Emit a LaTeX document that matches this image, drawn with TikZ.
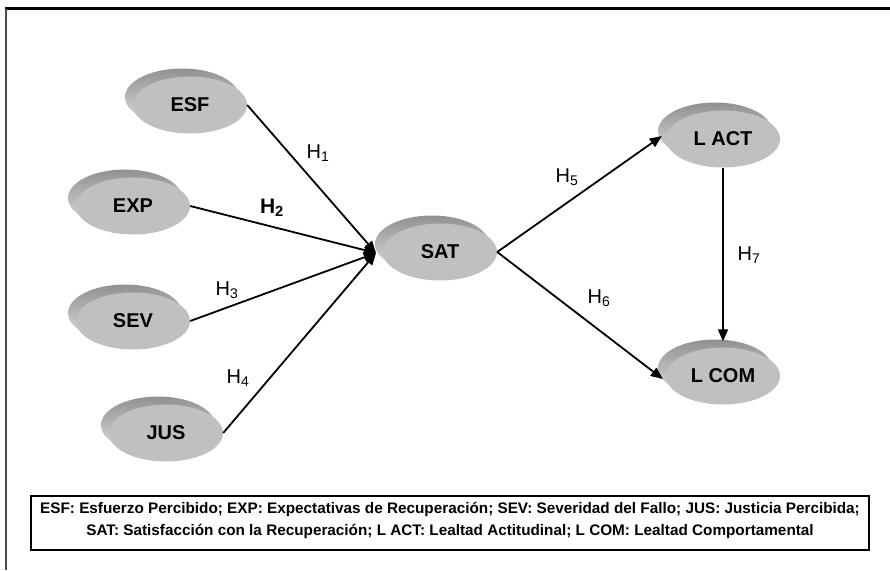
\documentclass[tikz,border=0pt]{standalone}
\usepackage{fontspec}
\setmainfont{Liberation Sans}
\usetikzlibrary{arrows.meta,shapes.geometric,shadows}

\definecolor{discgray}{RGB}{192,192,192}
\definecolor{rimtop}{RGB}{145,145,145}
\definecolor{rimbot}{RGB}{222,222,222}

\tikzset{
  construct/.style={ellipse, minimum width=114pt, minimum height=57pt, inner sep=0pt,
    fill=discgray, font=\fontsize{20}{20}\selectfont\bfseries,
    general shadow={shadow xshift=-8pt, shadow yshift=8pt, top color=rimtop, bottom color=rimbot}},
  hyp/.style={-{Triangle[length=12pt,width=10pt]}, line width=1.8pt},
  hlabel/.style={font=\fontsize{20}{20}\selectfont}
}

\begin{document}
\begin{tikzpicture}[x=1pt,y=-1pt]
 \useasboundingbox (0,0) rectangle (890,570);
 % frame
 \draw [line width=3pt](5,8.5)--(890,8.5);
 \draw [line width=1.5pt,black!70](6,8.5)--(6,570);

 % constructs
 \node[construct] (esf) at (190,105) {ESF};
 \node[construct] (exp) at (133,206) {EXP};
 \node[construct] (sev) at (133,321) {SEV};
 \node[construct] (jus) at (166,433) {JUS};
 \node[construct] (sat) at (440,252) {SAT};
 \node[construct] (lact) at (723,139) {L ACT};
 \node[construct] (lcom) at (723,376) {L COM};
 \coordinate (satin) at (376,253);

 % hypotheses
 \draw[hyp](esf.east)--(satin);
 \draw[hyp](exp.east)--(satin);
 \draw[hyp](sev.east)--(satin);
 \draw[hyp](jus.east)--(satin);
 \draw[hyp](sat.east)--([xshift=-4pt,yshift=3pt]lact.west);
 \draw[hyp](sat.east)--([xshift=-3pt,yshift=-3pt]lcom.west);
 \draw[hyp](lact.south)--([yshift=6pt]lcom.north);

 \node[hlabel] (h1) at (318,153) {H\textsubscript{1}};
 \node[hlabel,font=\fontsize{21}{21}\selectfont\bfseries] (h2) at (272,208) {H\textsubscript{2}};
 \node[hlabel] (h3) at (227,290) {H\textsubscript{3}};
 \node[hlabel] (h4) at (238,378) {H\textsubscript{4}};
 \node[hlabel] (h5) at (567,177) {H\textsubscript{5}};
 \node[hlabel] (h6) at (599,298) {H\textsubscript{6}};
 \node[hlabel] (h7) at (749,255) {H\textsubscript{7}};

 % legend
 \draw[line width=2pt](31,496) rectangle (869,550);
 \node[font=\fontsize{15.3}{22}\selectfont\bfseries,align=center] (legend) at (450,520)
  {ESF: Esfuerzo Percibido; EXP: Expectativas de Recuperación; SEV: Severidad del Fallo; JUS: Justicia Percibida;\\
   SAT: Satisfacción con la Recuperación; L ACT: Lealtad Actitudinal; L COM: Lealtad Comportamental};
\end{tikzpicture}
\end{document}
